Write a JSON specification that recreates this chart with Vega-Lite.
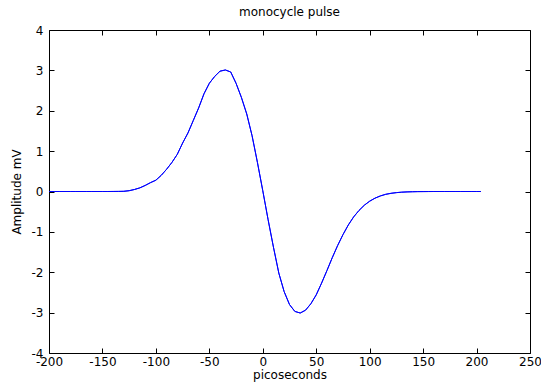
{
  "$schema": "https://vega.github.io/schema/vega-lite/v6.json",
  "width": 481,
  "height": 323,
  "autosize": {"type": "none"},
  "padding": {"left": 49, "top": 30, "right": 11, "bottom": 36},
  "background": "white",
  "title": {"text": "monocycle pulse", "fontSize": 12, "fontWeight": "normal", "font": "DejaVu Sans", "color": "#000", "offset": 5, "anchor": "middle"},
  "config": {
    "view": {"stroke": "#000", "strokeWidth": 1},
    "axis": {"grid": false, "domain": false, "tickColor": "#000", "tickSize": -5, "labelColor": "#000", "labelFont": "DejaVu Sans", "labelFontSize": 12, "titleFont": "DejaVu Sans", "titleFontSize": 12, "titleFontWeight": "normal", "titleColor": "#000", "labelExpr": "replace(datum.label, '−', '-')"}
  },
  "data": {"values": [
    {"t": -200, "v": 0}, {"t": -195, "v": 0}, {"t": -190, "v": 0}, {"t": -185, "v": 0}, {"t": -180, "v": 0},
    {"t": -175, "v": 0}, {"t": -170, "v": 0}, {"t": -165, "v": 0}, {"t": -160, "v": 0}, {"t": -155, "v": 0},
    {"t": -150, "v": 0}, {"t": -145, "v": 0}, {"t": -140, "v": 0.001}, {"t": -135, "v": 0.002}, {"t": -130, "v": 0.005},
    {"t": -125, "v": 0.02}, {"t": -120, "v": 0.05}, {"t": -115, "v": 0.09}, {"t": -110, "v": 0.15}, {"t": -105, "v": 0.22},
    {"t": -100, "v": 0.28}, {"t": -95, "v": 0.4}, {"t": -90, "v": 0.55}, {"t": -85, "v": 0.72}, {"t": -80, "v": 0.92},
    {"t": -75, "v": 1.2}, {"t": -70, "v": 1.45}, {"t": -65, "v": 1.76}, {"t": -60, "v": 2.07}, {"t": -55, "v": 2.42},
    {"t": -50, "v": 2.68}, {"t": -45, "v": 2.85}, {"t": -40, "v": 2.98}, {"t": -35, "v": 3.01}, {"t": -30, "v": 2.96},
    {"t": -25, "v": 2.68}, {"t": -20, "v": 2.33}, {"t": -15, "v": 1.92}, {"t": -10, "v": 1.38}, {"t": -5, "v": 0.72},
    {"t": 0, "v": 0.02}, {"t": 5, "v": -0.7}, {"t": 10, "v": -1.38}, {"t": 15, "v": -2.02}, {"t": 20, "v": -2.48},
    {"t": 25, "v": -2.8}, {"t": 30, "v": -2.97}, {"t": 35, "v": -3.01}, {"t": 40, "v": -2.94}, {"t": 45, "v": -2.78},
    {"t": 50, "v": -2.56}, {"t": 55, "v": -2.27}, {"t": 60, "v": -1.96}, {"t": 65, "v": -1.64}, {"t": 70, "v": -1.34},
    {"t": 75, "v": -1.07}, {"t": 80, "v": -0.83}, {"t": 85, "v": -0.63}, {"t": 90, "v": -0.47}, {"t": 95, "v": -0.34},
    {"t": 100, "v": -0.24}, {"t": 105, "v": -0.165}, {"t": 110, "v": -0.11}, {"t": 115, "v": -0.07}, {"t": 120, "v": -0.045},
    {"t": 125, "v": -0.028}, {"t": 130, "v": -0.017}, {"t": 135, "v": -0.01}, {"t": 140, "v": -0.006}, {"t": 145, "v": -0.003},
    {"t": 150, "v": -0.002}, {"t": 155, "v": -0.001}, {"t": 160, "v": 0}, {"t": 165, "v": 0}, {"t": 170, "v": 0},
    {"t": 175, "v": 0}, {"t": 180, "v": 0}, {"t": 185, "v": 0}, {"t": 190, "v": 0}, {"t": 195, "v": 0},
    {"t": 200, "v": 0}, {"t": 204, "v": 0}
  ]},
  "layer": [
    {
      "mark": {"type": "line", "stroke": "#0000ff", "strokeWidth": 1, "clip": true},
      "encoding": {
        "x": {"field": "t", "type": "quantitative", "scale": {"domain": [-200, 250], "nice": false, "zero": false},
              "axis": {"title": "picoseconds", "values": [-200, -150, -100, -50, 0, 50, 100, 150, 200, 250], "labelPadding": 8, "titlePadding": 2, "labelFlush": false}},
        "y": {"field": "v", "type": "quantitative", "scale": {"domain": [-4, 4], "nice": false},
              "axis": {"title": "Amplitude mV", "values": [-4, -3, -2, -1, 0, 1, 2, 3, 4], "labelPadding": 11, "titlePadding": 8, "labelFlush": false}}
      }
    },
    {
      "mark": {"type": "line", "stroke": "#0000ff", "strokeWidth": 1, "clip": true},
      "encoding": {
        "x": {"field": "t", "type": "quantitative", "scale": {"domain": [-200, 250], "nice": false, "zero": false},
              "axis": {"orient": "top", "title": null, "labels": false, "values": [-200, -150, -100, -50, 0, 50, 100, 150, 200, 250]}},
        "y": {"field": "v", "type": "quantitative", "scale": {"domain": [-4, 4], "nice": false},
              "axis": {"orient": "right", "title": null, "labels": false, "values": [-4, -3, -2, -1, 0, 1, 2, 3, 4]}}
      }
    }
  ],
  "resolve": {"axis": {"x": "independent", "y": "independent"}}
}
